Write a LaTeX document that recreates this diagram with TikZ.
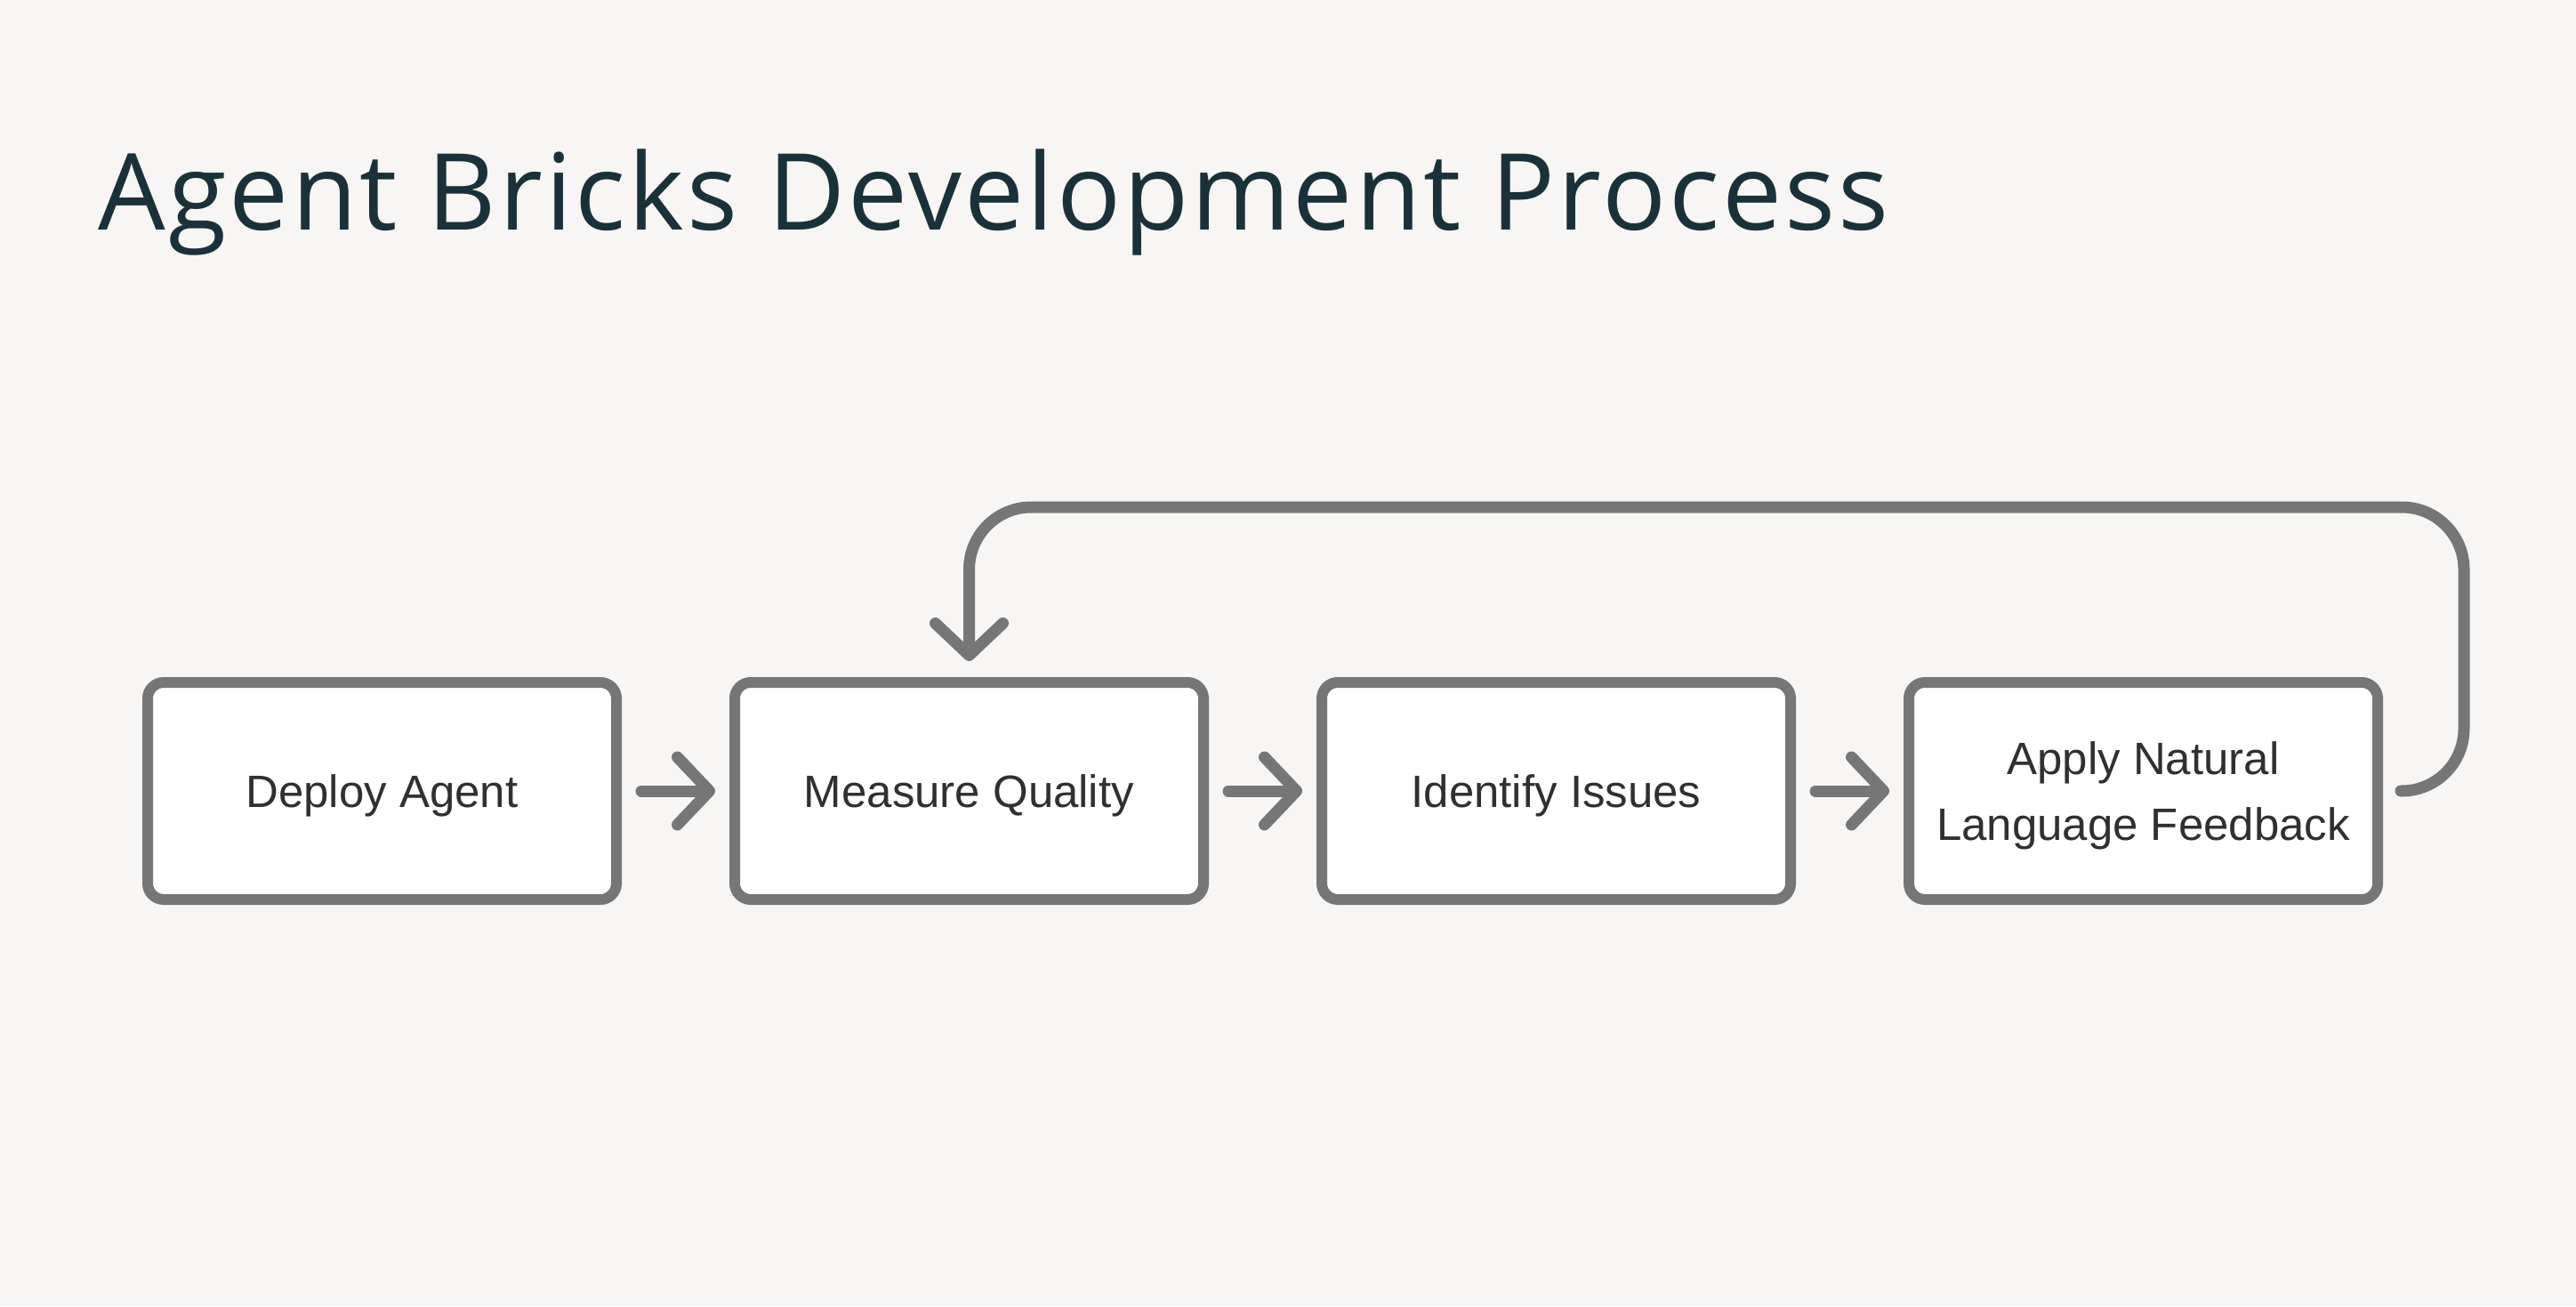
\documentclass[tikz,border=0pt]{standalone}
\usepackage{fontspec}
\setmainfont{Liberation Sans}
\newfontfamily\titlefont[LetterSpace=2.6]{Open Sans}
\usepackage{xcolor}
\usetikzlibrary{shapes,arrows.meta,positioning}

\definecolor{pagebg}{HTML}{F7F6F4}
\definecolor{titleink}{HTML}{1B3139}
\definecolor{edgegray}{HTML}{767676}
\definecolor{textink}{HTML}{303030}

\tikzset{
    stepbox/.style={
        draw=edgegray,
        line width=0.12cm,
        fill=white,
        rounded corners=0.18cm,
        minimum width=5.27cm,
        minimum height=2.44cm,
        align=center,
        text depth=0pt,
        text=textink,
        font=\fontsize{14.5}{21}\selectfont
    },
    flow/.style={
        draw=edgegray,
        line width=0.13cm,
        line cap=round,
        line join=round,
        -{Straight Barb[length=0.36cm,width=0.76cm,round]}
    }
}

\begin{document}
\begin{tikzpicture}
                \fill[pagebg] (0,0) rectangle (28.96,14.68);
                \useasboundingbox (0,0) rectangle (28.96,14.68);

                \node[
                    anchor=base west,
                    inner sep=0,
                    text=titleink,
                    font=\titlefont\fontsize{34}{40}\selectfont
                    ] (title) at (1.10,12.09) {Agent Bricks Development Process};

                \node[stepbox] (deploy) at (4.295,5.79) {Deploy Agent};
                \node[stepbox, right=1.21cm of deploy] (measure) {Measure Quality};
                \node[stepbox, right=1.21cm of measure] (identify) {Identify Issues};
                \node[stepbox, right=1.21cm of identify] (apply) {Apply Natural\\Language Feedback};

                \draw[flow, shorten <=0.22cm, shorten >=0.16cm] (deploy) -- (measure);
                \draw[flow, shorten <=0.22cm, shorten >=0.16cm] (measure) -- (identify);
                \draw[flow, shorten <=0.22cm, shorten >=0.16cm] (identify) -- (apply);

                \coordinate (loopstart) at ([xshift=0.2cm]apply.east);
                \coordinate (loopcorner) at (27.70,8.98);
                \draw[
                    flow,
                    rounded corners=0.7cm,
                    shorten >=0.18cm
                    ] (loopstart) -| (loopcorner) -| (measure.north);
\end{tikzpicture}
\end{document}
